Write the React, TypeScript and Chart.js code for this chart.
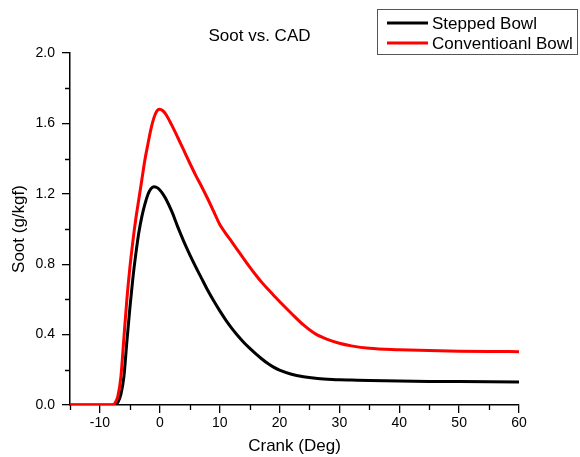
import React, { useEffect, useRef } from "react";
import { Chart, registerables } from "chart.js";

Chart.register(...registerables);

const titleText = "Soot vs. CAD";
const xAxisTitle = "Crank (Deg)";
const yAxisTitle = "Soot (g/kgf)";
const seriesLabels = ["Stepped Bowl", "Conventioanl Bowl"];
const seriesColors = ["#000000", "#ff0000"];

const crank = [
  -15, -10, -8, -7.5, -7, -6.5, -6, -5.5, -5, -4.5, -4, -3.5, -3, -2.5, -2, -1.5, -1, -0.5, 0, 0.5, 1,
  2, 3, 4, 5, 6, 7, 8, 9, 10, 11, 12, 13, 14, 15, 16, 17, 18, 19, 20, 22, 24, 26, 28, 30, 32, 35, 40,
  45, 50, 55, 60,
];

const steppedBowl = [
  0, 0, 0, 0, 0.015, 0.06, 0.16, 0.36, 0.55, 0.72, 0.86, 0.98, 1.07, 1.14, 1.195, 1.228, 1.24, 1.236,
  1.222, 1.2, 1.172, 1.1, 1.012, 0.93, 0.855, 0.785, 0.718, 0.652, 0.592, 0.536, 0.484, 0.437, 0.395,
  0.357, 0.323, 0.292, 0.263, 0.237, 0.215, 0.198, 0.175, 0.161, 0.152, 0.147, 0.144, 0.142, 0.139,
  0.136, 0.134, 0.133, 0.132, 0.131,
];

const conventionalBowl = [
  0, 0, 0, 0.01, 0.05, 0.16, 0.38, 0.6, 0.78, 0.93, 1.06, 1.17, 1.28, 1.39, 1.48, 1.565, 1.63, 1.67,
  1.68, 1.672, 1.652, 1.59, 1.52, 1.448, 1.375, 1.305, 1.24, 1.172, 1.1, 1.027, 0.975, 0.928, 0.88,
  0.832, 0.785, 0.74, 0.698, 0.66, 0.624, 0.588, 0.52, 0.455, 0.404, 0.373, 0.351, 0.336, 0.322, 0.314,
  0.309, 0.306, 0.304, 0.303,
];

const xMajorTicks = [-10, 0, 10, 20, 30, 40, 50, 60];
const xMinorTicks = [-15, -5, 5, 15, 25, 35, 45, 55];
const yMajorTicks = [0, 0.4, 0.8, 1.2, 1.6, 2.0];
const yMinorTicks = [0.2, 0.6, 1.0, 1.4, 1.8];

const FONT = "'Liberation Sans', Arial, sans-serif";

const minorTickPlugin = {
  id: "minorTicks",
  afterDraw(chart: any) {
    const { ctx, scales } = chart;
    const xs = scales.x;
    const ys = scales.y;
    ctx.save();
    ctx.strokeStyle = "#000";
    ctx.lineWidth = 1.3;
    ctx.beginPath();
    xMinorTicks.forEach((v) => {
      const px = Math.round(xs.getPixelForValue(v)) + 0.5;
      ctx.moveTo(px, ys.bottom);
      ctx.lineTo(px, ys.bottom + 5);
    });
    yMinorTicks.forEach((v) => {
      const py = Math.round(ys.getPixelForValue(v)) + 0.5;
      ctx.moveTo(xs.left - 5, py);
      ctx.lineTo(xs.left, py);
    });
    ctx.stroke();
    ctx.restore();
  },
};

const boxLegendPlugin = {
  id: "boxLegend",
  afterDraw(chart: any) {
    const { ctx } = chart;
    ctx.save();
    ctx.strokeStyle = "#555";
    ctx.lineWidth = 1;
    ctx.strokeRect(377.5, 9.5, 200, 45);
    ctx.font = `17px ${FONT}`;
    ctx.textBaseline = "middle";
    ctx.textAlign = "left";
    chart.data.datasets.forEach((ds: any, i: number) => {
      const y = 23 + i * 20;
      ctx.strokeStyle = ds.borderColor;
      ctx.lineWidth = 3;
      ctx.beginPath();
      ctx.moveTo(387, y);
      ctx.lineTo(428, y);
      ctx.stroke();
      ctx.fillStyle = "#000";
      ctx.fillText(ds.label, 432, y + 1);
    });
    ctx.restore();
  },
};

export default function App() {
  const canvasRef = useRef<HTMLCanvasElement | null>(null);

  useEffect(() => {
    document.body.style.margin = "0";
    const canvas = canvasRef.current;
    if (!canvas) return;
    const makePoints = (ys: number[]) => crank.map((x, i) => ({ x, y: ys[i] }));
    const chart = new Chart(canvas, {
      type: "line",
      data: {
        datasets: [
          {
            label: seriesLabels[0],
            data: makePoints(steppedBowl),
            borderColor: seriesColors[0],
            backgroundColor: seriesColors[0],
            borderWidth: 3,
            pointRadius: 0,
            cubicInterpolationMode: "monotone",
            order: 1,
          },
          {
            label: seriesLabels[1],
            data: makePoints(conventionalBowl),
            borderColor: seriesColors[1],
            backgroundColor: seriesColors[1],
            borderWidth: 3,
            pointRadius: 0,
            cubicInterpolationMode: "monotone",
            order: 0,
          },
        ],
      },
      options: {
        responsive: false,
        animation: false,
        devicePixelRatio: 1,
        layout: { padding: { left: 0, right: 61, top: 0, bottom: 0 } },
        plugins: {
          legend: { display: false },
          tooltip: { enabled: false },
          title: {
            display: true,
            text: titleText,
            color: "#000",
            font: { size: 17, family: FONT, weight: "normal" },
            padding: { top: 26, bottom: 6.6 },
          },
        },
        scales: {
          x: {
            type: "linear",
            min: -15,
            max: 60,
            afterBuildTicks: (s: any) => {
              s.ticks = xMajorTicks.map((v) => ({ value: v }));
            },
            afterFit: (s: any) => {
              s.height = 52;
            },
            grid: { drawOnChartArea: false, tickLength: 8, color: "#000", tickColor: "#000", lineWidth: 1.3 },
            border: { color: "#000", width: 1.5 },
            ticks: {
              color: "#000",
              font: { size: 14, family: FONT },
              padding: 2,
              maxRotation: 0,
              autoSkip: false,
              callback: (v: any) => String(v),
            },
            title: {
              display: true,
              text: xAxisTitle,
              color: "#000",
              font: { size: 17, family: FONT },
              padding: { top: 1, bottom: 0 },
            },
          },
          y: {
            type: "linear",
            min: 0,
            max: 2,
            afterBuildTicks: (s: any) => {
              s.ticks = yMajorTicks.map((v) => ({ value: v }));
            },
            afterFit: (s: any) => {
              s.width = 70;
            },
            grid: { drawOnChartArea: false, tickLength: 8, color: "#000", tickColor: "#000", lineWidth: 1.3 },
            border: { color: "#000", width: 1.5 },
            ticks: {
              color: "#000",
              font: { size: 14, family: FONT },
              padding: 7,
              autoSkip: false,
              callback: (v: any) => Number(v).toFixed(1),
            },
            title: {
              display: true,
              text: yAxisTitle,
              color: "#000",
              font: { size: 17, family: FONT },
              padding: { top: 9, bottom: 0 },
            },
          },
        },
      },
      plugins: [minorTickPlugin, boxLegendPlugin],
    } as any);
    return () => chart.destroy();
  }, []);

  return (
    <div style={{ width: 580, height: 457 }}>
      <canvas ref={canvasRef} width={580} height={457} style={{ display: "block" }} />
    </div>
  );
}
